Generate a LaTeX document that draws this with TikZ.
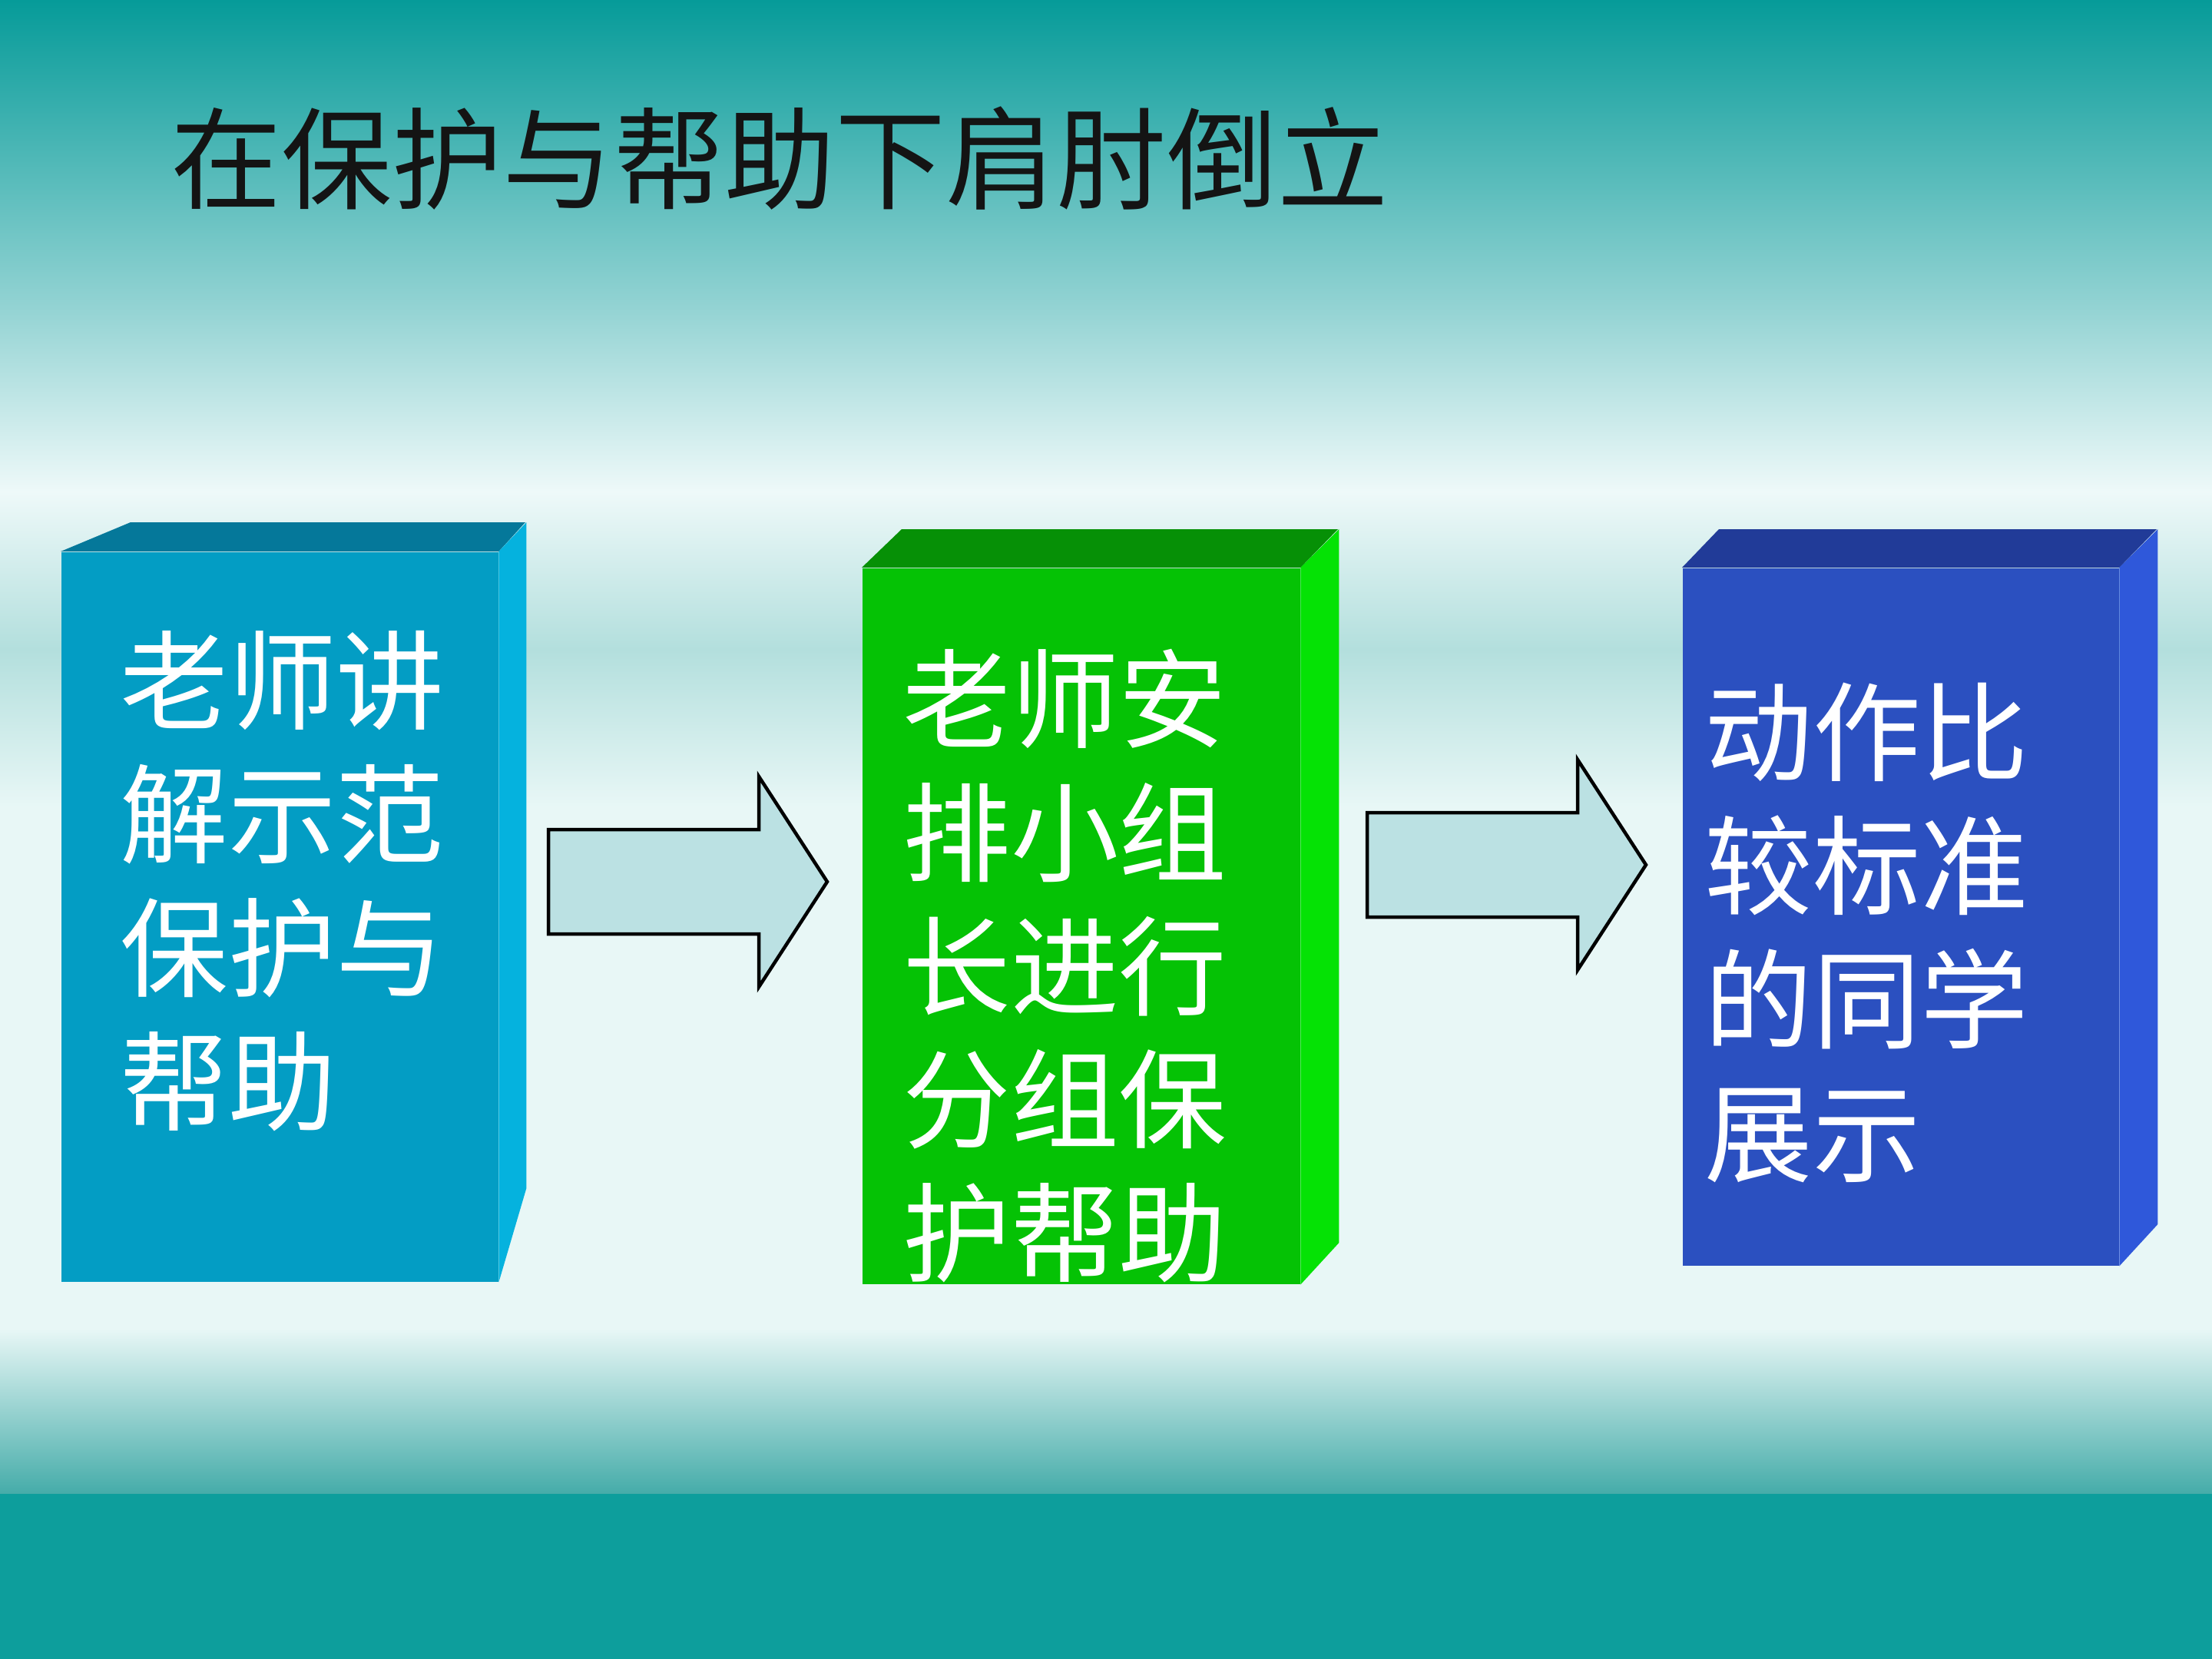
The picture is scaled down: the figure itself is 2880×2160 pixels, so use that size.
\documentclass[tikz,border=0pt]{standalone}
\usepackage{fontspec}
\usepackage{tikz}
\usetikzlibrary{positioning}
\usepackage{xcolor}
\newfontfamily\cjk{Noto Sans CJK SC}
% background
\definecolor{bgteal}{HTML}{069B99}
\definecolor{bgmid}{HTML}{93D3D3}
\definecolor{bglight}{HTML}{EEF9F9}
\definecolor{bgband}{HTML}{B3DFDD}
\definecolor{bgpale}{HTML}{E8F7F6}
\definecolor{bgfade}{HTML}{45ACA9}
\definecolor{bgdeep}{HTML}{0D9E9C}
% boxes
\definecolor{cyanfront}{HTML}{039DC4}
\definecolor{cyantop}{HTML}{05789A}
\definecolor{cyanside}{HTML}{05B2DE}
\definecolor{greenfront}{HTML}{05C205}
\definecolor{greentop}{HTML}{069006}
\definecolor{greenside}{HTML}{05E205}
\definecolor{bluefront}{HTML}{2B50C0}
\definecolor{bluetop}{HTML}{213B98}
\definecolor{blueside}{HTML}{2F58DA}
\definecolor{arrowfill}{HTML}{BBE1E3}
\definecolor{titleink}{HTML}{141414}

\begin{document}
\begin{tikzpicture}[x=0.1mm, y=-0.1mm,
    face/.style={draw=none, inner sep=0pt, anchor=north west},
    boxtext/.style={anchor=north west, inner sep=0pt, text=white, align=left,
                    font=\cjk\fontsize{40}{49.5}\selectfont},
    blockarrow/.style={draw=black, line width=0.45mm, fill=arrowfill, line join=miter}]
  \useasboundingbox (0,0) rectangle (2880,2160);

  % background bands
  \shade[top color=bgteal, bottom color=bgmid] (0,0) rectangle (2880,400);
  \shade[top color=bgmid, bottom color=bglight] (0,400) rectangle (2880,640);
  \shade[top color=bglight, bottom color=bgband] (0,640) rectangle (2880,845);
  \shade[top color=bgband, bottom color=bgpale] (0,845) rectangle (2880,1050);
  \fill[bgpale] (0,1050) rectangle (2880,1730);
  \shade[top color=bgpale, bottom color=bgfade] (0,1730) rectangle (2880,1945);
  \fill[bgdeep] (0,1945) rectangle (2880,2160);

  \node[anchor=north west, inner sep=0pt, text=titleink,
        font=\cjk\fontsize{41}{49}\selectfont] (title) at (222,138) {在保护与帮助下肩肘倒立};

  % first box
  \node[face, fill=cyanfront, minimum width=5.69cm, minimum height=9.50cm] (card1) at (79,718) {};
  \fill[cyantop] (card1.north west) -- ++(91,-38) -- ++(514,0) -- (card1.north east) -- cycle;
  \fill[cyanside] (card1.north east) -- ++(36,-38) -- ++(0,867) -- (card1.south east) -- cycle;
  \node[boxtext] (lbl1) at (156,821) {老师讲\\解示范\\保护与\\帮助};

  % second box
  \node[face, fill=greenfront, minimum width=5.70cm, minimum height=9.32cm] (card2) at (1122,739) {};
  \fill[greentop] (card2.north west) -- ++(52,-50) -- ++(568,0) -- (card2.north east) -- cycle;
  \fill[greenside] (card2.north east) -- ++(50,-50) -- ++(0,929) -- (card2.south east) -- cycle;
  \node[boxtext] (lbl2) at (1175,844) {老师安\\排小组\\长进行\\分组保\\护帮助};

  % third box
  \node[face, fill=bluefront, minimum width=5.68cm, minimum height=9.08cm] (card3) at (2190,739) {};
  \fill[bluetop] (card3.north west) -- ++(48,-50) -- ++(570,0) -- (card3.north east) -- cycle;
  \fill[blueside] (card3.north east) -- ++(50,-50) -- ++(0,905) -- (card3.south east) -- cycle;
  \node[boxtext] (lbl3) at (2219,888) {动作比\\较标准\\的同学\\展示};

  % block arrows
  \coordinate (tail1) at (714,1148);
  \coordinate (tail2) at (1780,1126);
  \foreach \t in {tail1, tail2}
    \draw[blockarrow] (\t) ++(0,-68) -- ++(274,0) -- ++(0,-69) -- ++(89,137)
      -- ++(-89,137) -- ++(0,-69) -- ++(-274,0) -- cycle;
\end{tikzpicture}
\end{document}
